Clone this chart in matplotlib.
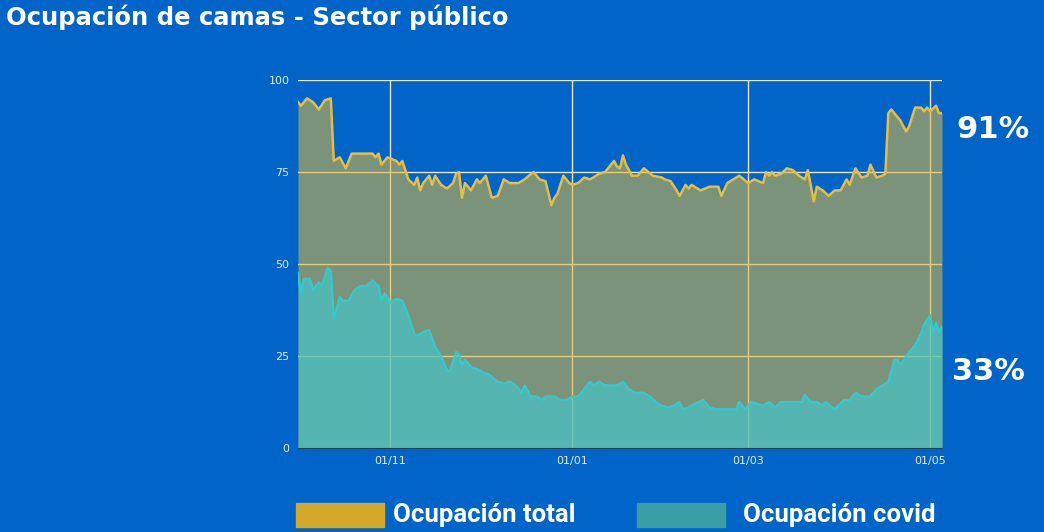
import numpy as np
import pandas as pd
import matplotlib.pyplot as plt
import matplotlib.dates as mdates
from matplotlib.patches import Rectangle

inicio = pd.Timestamp('2020-10-01')

# lecturas del gráfico: días desde el 01/10/2020 y % de ocupación
dias_total = [0, 1, 3, 5, 7, 9, 11, 12, 14, 16, 18, 21, 25, 26, 27, 28, 30, 33, 34, 35,
              37, 39, 40, 41, 42, 44, 45, 46, 48, 50, 52, 53, 54, 55, 56, 58, 60, 61, 63, 65,
              67, 69, 71, 74, 76, 79, 81, 83, 85, 86, 87, 89, 91, 92, 94, 96, 98, 100, 101, 103,
              106, 107, 108, 109, 110, 112, 114, 116, 119, 122, 123, 125, 127, 128, 130, 131, 132, 135, 138, 141,
              142, 144, 146, 148, 151, 153, 156, 157, 158, 159, 160, 162, 164, 166, 168, 170, 171, 173, 174, 176,
              178, 180, 182, 184, 185, 187, 189, 191, 192, 194, 196, 197, 198, 199, 201, 202, 204, 205, 207, 209,
              210, 211, 212, 214, 215, 216]
ocupacion_total = [94, 93, 95, 94, 92, 94.5, 95, 78, 79, 76, 80, 80, 80, 79, 80, 77, 79, 78, 77, 78,
                   73, 71.5, 73.5, 70, 72, 74, 71.5, 74, 71.5, 70.5, 72, 74.5, 75, 68, 72, 70, 73, 72, 74, 68,
                   68.5, 73, 72, 72, 73, 75, 73, 72.5, 66, 68, 69, 74, 72, 71.5, 72, 73.5, 73, 74, 74.5, 75,
                   78, 76.5, 76, 79.5, 77, 74, 74, 76, 74, 73.5, 73, 72.5, 70, 68.5, 71.5, 70.5, 71.5, 70, 71, 71,
                   68.5, 72, 73, 74, 72, 73, 72, 75, 74, 75, 74, 74.5, 76, 75.5, 74, 73, 75.5, 67, 71, 70,
                   68.5, 70, 70, 73, 71.5, 76, 73.5, 74, 77, 73.5, 74, 74.5, 91, 92, 90, 89, 86, 87.5, 92.5, 92.5,
                   91.5, 92.5, 91.5, 93, 91, 91]

dias_covid = [0, 1, 2, 4, 5, 7, 8, 10, 11, 12, 14, 15, 17, 19, 21, 23, 25, 27, 28, 29,
              31, 33, 35, 37, 39, 40, 42, 44, 46, 48, 50, 51, 53, 54, 55, 56, 58, 60, 62, 64,
              67, 69, 71, 73, 75, 76, 78, 80, 82, 83, 86, 88, 90, 92, 94, 96, 98, 99, 101, 103,
              105, 107, 109, 111, 113, 116, 118, 120, 122, 124, 126, 128, 129, 131, 133, 136, 138, 140, 142, 145,
              147, 148, 150, 152, 154, 156, 158, 160, 162, 165, 169, 170, 172, 174, 176, 177, 180, 183, 185, 187,
              189, 192, 194, 196, 198, 200, 201, 202, 204, 205, 207, 209, 210, 212, 213, 214, 215, 216]
ocupacion_covid = [47.5, 42, 46, 46, 43, 45, 44, 49, 48, 35, 41, 40, 40, 43, 44, 44, 45.5, 44, 40, 42,
                   39.5, 40.5, 40, 36, 31, 30.5, 31.5, 32, 27.5, 25, 21, 21, 26, 25.5, 22.5, 24, 22, 21.5, 20.5, 20,
                   18, 17.5, 18, 17, 15, 17, 14, 14, 13, 14, 14, 13, 13, 14, 14, 16, 18, 17, 18, 17,
                   17, 17, 18, 16, 15, 15, 14, 12.5, 11.5, 11, 11.5, 12.5, 10.5, 11, 12, 13, 11, 10.5, 10.5, 10.5,
                   10.5, 12.5, 10.5, 12.5, 12, 11.5, 12.5, 11, 12.5, 12.5, 12.5, 14.5, 12.5, 12.5, 11.5, 12.5, 10.5, 13, 13, 15,
                   14, 14, 16, 17, 18, 24, 24, 22.5, 25, 26, 28, 31, 33.5, 36, 31.5, 34, 31.5, 33]

ticks_x = ['2020-11-01', '2021-01-01', '2021-03-01', '2021-05-01']
ticks_y = [0, 25, 50, 75, 100]

fondo = '#0064C8'
fechas_total = inicio + pd.to_timedelta(dias_total, unit='D')
fechas_covid = inicio + pd.to_timedelta(dias_covid, unit='D')

fig = plt.figure(figsize=(10.44, 5.32), dpi=100, facecolor=fondo)
ax = fig.add_axes([298 / 1044, 84 / 532, 644 / 1044, 368 / 532])
ax.set_facecolor(fondo)

ax.fill_between(fechas_total, ocupacion_total, color='#E1B93C', alpha=0.55, lw=0, zorder=2)
ax.plot(fechas_total, ocupacion_total, color='#E6BE42', lw=1.8, zorder=4)
ax.fill_between(fechas_covid, ocupacion_covid, color='#44C5C9', alpha=0.7, lw=0, zorder=3)
ax.plot(fechas_covid, ocupacion_covid, color='#38C8CC', lw=1.8, zorder=5)

ax.set_ylim(0, 100)
ax.set_xlim(inicio, inicio + pd.Timedelta(days=216))
ax.set_yticks(ticks_y)
ax.set_xticks(pd.to_datetime(ticks_x))
ax.xaxis.set_major_formatter(mdates.DateFormatter('%d/%m'))
ax.grid(True, color='#EDE6C8', lw=1, zorder=1)
ax.tick_params(colors='#E6ECF5', labelsize=8, length=0, pad=6)
for s in ['top', 'right', 'left']:
    ax.spines[s].set_visible(False)
ax.spines['bottom'].set_color('#1E3F66')
ax.spines['bottom'].set_zorder(6)

fig.text(0.006, 0.968, 'Ocupación de camas - Sector público', color='white',
         fontsize=17.5, fontweight='bold', family='DejaVu Sans', va='center', ha='left')
fig.text(993 / 1044, 1 - 130 / 532, f'{ocupacion_total[-1]:.0f}%', color='white',
         fontsize=22, fontweight='bold', family='DejaVu Sans', va='center', ha='center')
fig.text(988 / 1044, 1 - 372 / 532, f'{ocupacion_covid[-1]:.0f}%', color='white',
         fontsize=22, fontweight='bold', family='DejaVu Sans', va='center', ha='center')

# leyenda dibujada a mano
fig.patches.append(Rectangle((296 / 1044, 1 - 527 / 532), 88 / 1044, 24 / 532,
                             transform=fig.transFigure, color='#D4A829'))
fig.patches.append(Rectangle((637 / 1044, 1 - 527 / 532), 88 / 1044, 24 / 532,
                             transform=fig.transFigure, color='#3A9EA5'))
fig.text(393 / 1044, 1 - 515 / 532, 'Ocupación total', color='white', fontsize=18.5,
         fontweight='bold', family='Roboto', va='center', ha='left')
fig.text(743 / 1044, 1 - 515 / 532, 'Ocupación covid', color='white', fontsize=18.5,
         fontweight='bold', family='Roboto', va='center', ha='left')

fig.savefig('out.png', dpi=100, facecolor=fondo)
